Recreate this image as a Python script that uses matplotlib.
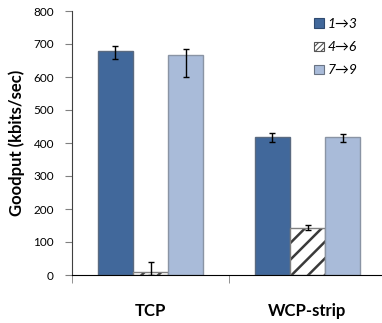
import numpy as np
import matplotlib
matplotlib.use("Agg")
import matplotlib.pyplot as plt
from matplotlib.patches import Patch
from matplotlib.ticker import FixedLocator

plt.rcParams['font.family'] = ['Lato', 'DejaVu Sans']
plt.rcParams['hatch.linewidth'] = 1.8

groups = ["TCP", "WCP-strip"]
flows = ["1\u21923", "4\u21926", "7\u21929"]
goodput = [
    [680, 417],   # 1->3
    [8, 143],     # 4->6
    [668, 417],   # 7->9
]
err_low = [
    [25, 15],
    [8, 8],
    [68, 15],
]
err_high = [
    [15, 12],
    [32, 9],
    [17, 10],
]

colors = ["#41689b", "white", "#a9bbd9"]
edges = ["#5a6a80", "#808080", "#8a94a4"]
hatches = [None, "//", None]

fig = plt.figure(figsize=(3.82, 3.23), dpi=100)
ax = fig.add_axes([72 / 382, 48 / 323, 314 / 382, 264 / 323])

x = np.arange(len(groups))
w = 0.223
for i in range(len(flows)):
    pos = x + (i - 1) * w
    if hatches[i]:
        # stripes first, then a grey outline on top
        ax.bar(pos, goodput[i], w, color=colors[i], edgecolor="#3a3a3a",
               linewidth=0, hatch=hatches[i], zorder=2)
        ax.bar(pos, goodput[i], w, fill=False, edgecolor=edges[i],
               linewidth=1.0, zorder=2)
    else:
        ax.bar(pos, goodput[i], w, color=colors[i], edgecolor=edges[i],
               linewidth=1.0, zorder=2)
    ax.errorbar(pos, goodput[i], yerr=[err_low[i], err_high[i]],
                fmt="none", ecolor="black", elinewidth=1.0, capsize=2,
                capthick=1.0, zorder=3)

ax.set_xlim(-0.5, 1.5)
ax.set_ylim(0, 800)
ax.set_yticks(range(0, 801, 100))
ax.set_xticks(x)
ax.set_xticklabels(groups, fontsize=12, fontweight="bold")
ax.xaxis.set_minor_locator(FixedLocator([-0.5, 0.5]))
ax.tick_params(axis="x", which="major", length=0, pad=20)
ax.tick_params(axis="x", which="minor", length=6, direction="out", color="#808080")
ax.tick_params(axis="y", length=5, direction="out", pad=8, labelsize=8.5,
               color="#808080")
ax.set_ylabel("Goodput (kbits/sec)", fontsize=12, fontweight="bold", labelpad=6)

ax.spines["top"].set_visible(False)
ax.spines["right"].set_visible(False)
ax.spines["left"].set_color("#404040")
ax.spines["bottom"].set_color("black")

handles = [
    Patch(facecolor=colors[0], edgecolor="#2f4a70", linewidth=0.8),
    Patch(facecolor="white", edgecolor="#555555", linewidth=0.8, hatch="//////"),
    Patch(facecolor=colors[2], edgecolor="#6a7484", linewidth=0.8),
]
plt.rcParams['hatch.linewidth'] = 0.8
leg = ax.legend(handles, flows, loc="upper right", bbox_to_anchor=(0.95, 1.02),
                frameon=False, handlelength=0.7, handleheight=0.7,
                handletextpad=0.3, labelspacing=0.8,
                prop={"style": "italic", "size": 10})

fig.savefig("out.png", dpi=100)
